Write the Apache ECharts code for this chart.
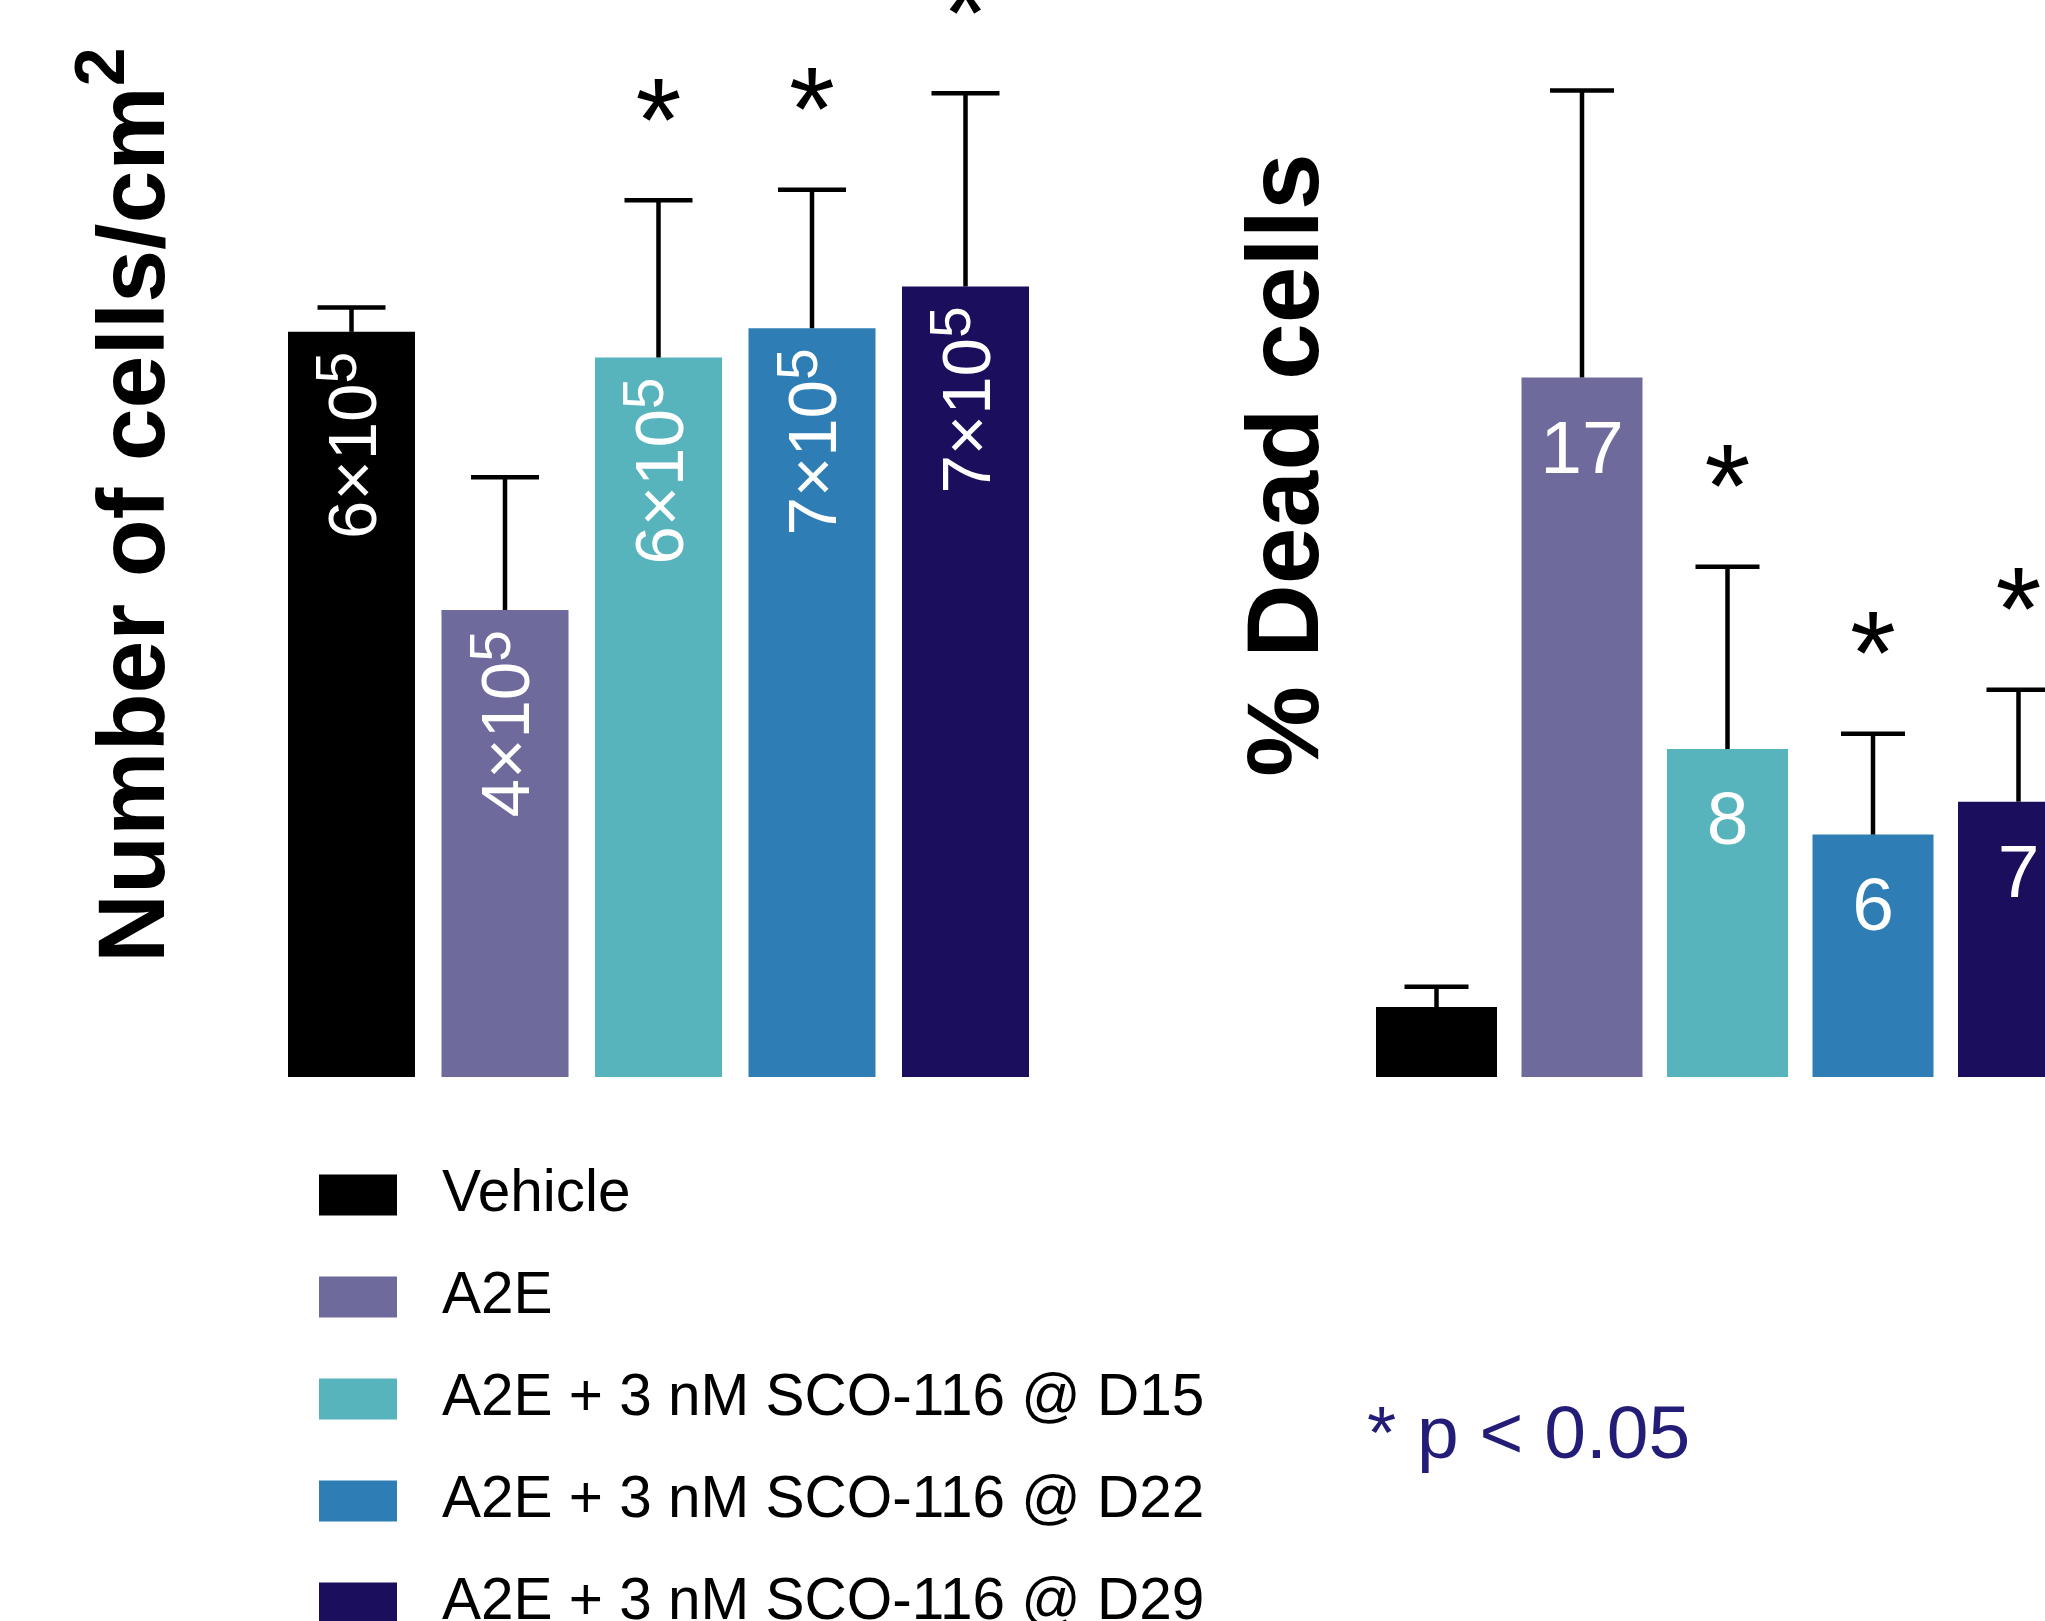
<!DOCTYPE html>
<html><head><meta charset="utf-8">
<script src="https://cdn.jsdelivr.net/npm/echarts@6/dist/echarts.min.js"></script>
<style>html,body{margin:0;padding:0;background:#fff}#c{width:2045px;height:1621px}</style>
</head><body><div id="c"></div>
<script>
// ---- data ----
const groups = ['Vehicle', 'A2E', 'A2E + 3 nM SCO-116 @ D15', 'A2E + 3 nM SCO-116 @ D22', 'A2E + 3 nM SCO-116 @ D29'];
const colors = ['#000000', '#6e6a9c', '#57b4bc', '#2e7eb5', '#1b0f5d'];
const cellValues = [6.40, 4.01, 6.18, 6.43, 6.79];   // x10^5 cells/cm2
const cellErrors = [0.21, 1.14, 1.35, 1.19, 1.66];
const cellMantissa = ['6', '4', '6', '7', '7'];
const cellExponent = '5';
const deadValues = [1.7, 17.0, 7.97, 5.89, 6.69];   // % dead cells
const deadErrors = [0.49, 6.97, 4.43, 2.45, 2.72];
const deadLabels = ['', '17', '8', '6', '7'];
const significant = [0, 0, 1, 1, 1];
const cellsTitle = 'Number of cells/cm';
const cellsTitleSup = '2';
const deadTitle = '% Dead cells';
const pNote = '* p < 0.05';

const FONT = '"Liberation Sans", Arial, Helvetica, sans-serif';

function barSeries(gi, values, barWidth, labelFor) {
  return groups.map((g, i) => ({
    name: g, type: 'bar', xAxisIndex: gi, yAxisIndex: gi,
    barWidth: barWidth, barGap: '-100%',
    itemStyle: { color: colors[i] },
    data: values.map((v, j) => (j === i ? v : '-')),
    label: labelFor(i),
    emphasis: { disabled: true },
    silent: true
  }));
}

function errSeries(gi, values, errs, capW) {
  return {
    type: 'custom', xAxisIndex: gi, yAxisIndex: gi, clip: false, z: 5, silent: true,
    data: values.map((v, i) => [i, v, v + errs[i], significant[i]]),
    encode: { x: 0, y: [1, 2] },
    renderItem: function (params, api) {
      const i = api.value(0);
      const b = api.coord([i, api.value(1)]);
      const t = api.coord([i, api.value(2)]);
      const ls = { stroke: '#000', lineWidth: 4.5 };
      const ch = [
        { type: 'line', shape: { x1: b[0], y1: b[1], x2: t[0], y2: t[1] }, style: ls },
        { type: 'line', shape: { x1: t[0] - capW / 2, y1: t[1], x2: t[0] + capW / 2, y2: t[1] }, style: ls }
      ];
      if (api.value(3)) {
        ch.push({ type: 'text', x: t[0], y: t[1] - 72,
          style: { text: '*', fontSize: 118, fontFamily: FONT, fill: '#000',
                   align: 'center', verticalAlign: 'middle', textAlign: 'center', textVerticalAlign: 'middle' } });
      }
      return { type: 'group', children: ch };
    }
  };
}

const leftLabel = (i) => ({
  show: true, rotate: 90, position: 'insideTop', align: 'right', verticalAlign: 'middle', distance: 20,
  formatter: function (p) { return '{m|' + cellMantissa[p.dataIndex] + '×10}{e|' + cellExponent + '}'; },
  rich: {
    m: { fontSize: 69, color: '#fff', fontFamily: FONT, lineHeight: 79, verticalAlign: 'bottom' },
    e: { fontSize: 57, color: '#fff', fontFamily: FONT, verticalAlign: 'top' }
  }
});
const rightLabel = (i) => ({
  show: true, position: 'insideTop', distance: 37, color: '#fff', fontSize: 75, fontFamily: FONT,
  formatter: function (p) { return deadLabels[p.dataIndex]; }
});

const chart = echarts.init(document.getElementById('c'), null, { renderer: 'canvas' });
chart.setOption({
  animation: false,
  backgroundColor: '#fff',
  grid: [
    { left: 274.75, top: 0, width: 767.5, height: 1077, outerBoundsMode: 'none' },
    { left: 1363.75, top: 0, width: 727.5, height: 1077, outerBoundsMode: 'none' }
  ],
  xAxis: [
    { type: 'category', gridIndex: 0, data: groups, show: false },
    { type: 'category', gridIndex: 1, data: groups, show: false }
  ],
  yAxis: [
    { type: 'value', gridIndex: 0, min: 0, max: 9.25, show: false },
    { type: 'value', gridIndex: 1, min: 0, max: 26.17, show: false }
  ],
  legend: {
    data: groups, orient: 'vertical', left: 319, top: 1165, height: 700, padding: 0,
    itemWidth: 78, itemHeight: 41, itemGap: 42, icon: 'rect', selectedMode: false,
    textStyle: { fontSize: 58.5, fontFamily: FONT, color: '#000', lineHeight: 60, padding: [0, 0, 0, 40] }
  },
  graphic: [
    { type: 'text', x: 127.5, y: 505, rotation: Math.PI / 2,
      style: { text: '{m|' + cellsTitle + '}{s|' + cellsTitleSup + '}',
        align: 'center', verticalAlign: 'middle', textAlign: 'center', textVerticalAlign: 'middle',
        rich: {
          m: { fontSize: 95, fontWeight: 'bold', fontFamily: FONT, fill: '#000', lineHeight: 115, verticalAlign: 'bottom' },
          s: { fontSize: 70, fontWeight: 'bold', fontFamily: FONT, fill: '#000', verticalAlign: 'top' }
        } } },
    { type: 'text', x: 1290, y: 465, rotation: Math.PI / 2,
      style: { text: deadTitle, fontSize: 102, fontWeight: 'bold', fontFamily: FONT, fill: '#000',
        align: 'center', verticalAlign: 'middle', textAlign: 'center', textVerticalAlign: 'middle' } },
    { type: 'text', x: 1367, y: 1437,
      style: { text: pNote, fontSize: 75, fontFamily: FONT, fill: '#231d78',
        align: 'left', verticalAlign: 'middle', textAlign: 'left', textVerticalAlign: 'middle' } }
  ],
  series: [].concat(
    barSeries(0, cellValues, 127, leftLabel),
    [errSeries(0, cellValues, cellErrors, 68)],
    barSeries(1, deadValues, 121, rightLabel),
    [errSeries(1, deadValues, deadErrors, 64)]
  )
});
</script></body></html>
